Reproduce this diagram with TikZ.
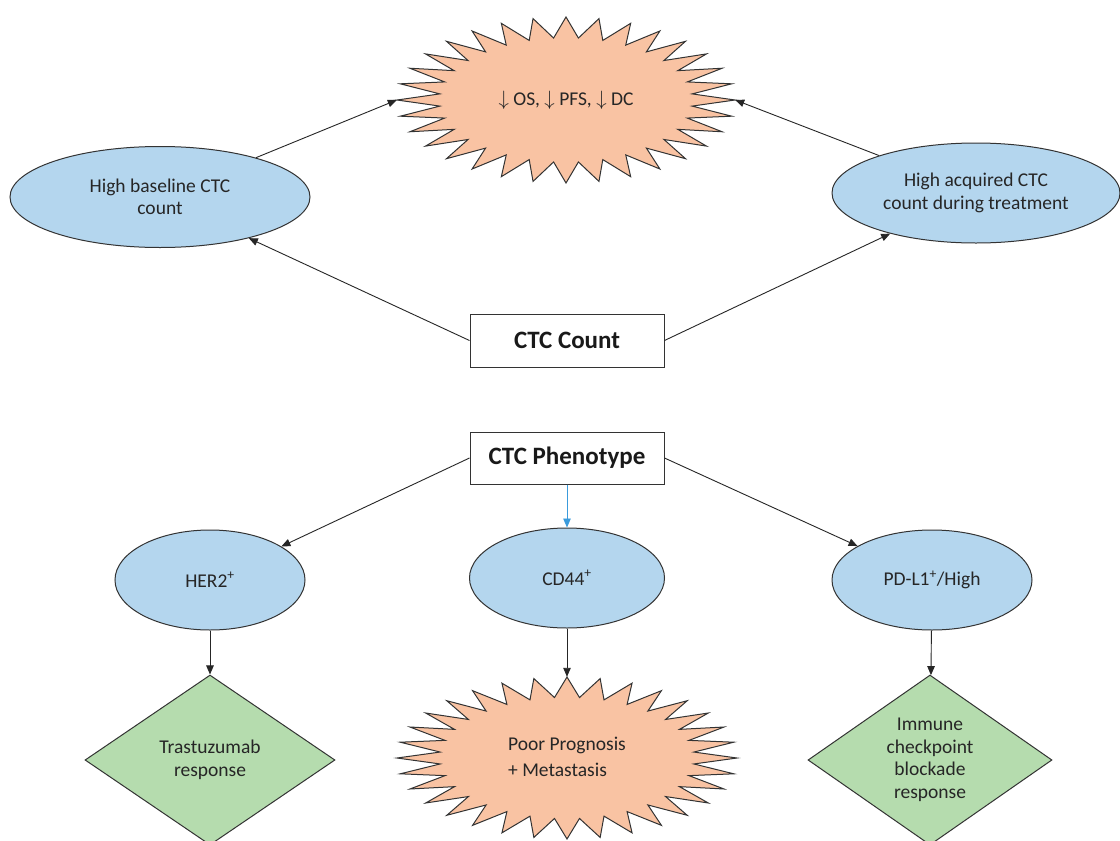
\documentclass[tikz,border=0pt]{standalone}
\usepackage{fontspec}
\setmainfont{Carlito}
\usetikzlibrary{shapes.geometric,arrows.meta}
\definecolor{ellblue}{HTML}{B4D6EE}
\definecolor{peach}{HTML}{F9C3A3}
\definecolor{lgreen}{HTML}{B5DCAE}
\definecolor{edgegray}{HTML}{333333}
\definecolor{bluearrow}{HTML}{3A9BDC}
\begin{document}
\begin{tikzpicture}[x=1pt,y=-1pt,
  txt/.style={font=\fontsize{19.5}{22.5}\selectfont, text=black!85, align=center},
  oval/.style={ellipse, draw=edgegray, line width=1pt, fill=ellblue, inner sep=0pt, txt},
  boxsty/.style={rectangle, draw=edgegray, line width=1pt, fill=white, minimum width=194pt, minimum height=52pt, font=\fontsize{25}{30}\selectfont\bfseries, text=black!90},
  dia/.style={diamond, draw=edgegray, line width=1pt, fill=lgreen, inner sep=0pt, aspect=1.45, txt},
  burst/.style={draw=edgegray, line width=1pt, fill=peach, line join=miter},
  burstnode/.style={ellipse, inner sep=0pt, txt},
  arr/.style={-{Triangle[length=9pt,width=7.5pt]}, line width=0.9pt, black!85},
]
\clip (0,0) rectangle (1120,841);
\fill[white] (0,0) rectangle (1120,841);

% starbursts
\draw[burst] plot[variable=\t, samples at={0,...,63}]
  ({566+169*(1-0.25*mod(\t,2))*cos(\t*5.625)}, {100+83*(1-0.25*mod(\t,2))*sin(\t*5.625)}) -- cycle;
\draw[burst] plot[variable=\t, samples at={0,...,63}]
  ({567+170*(1-0.25*mod(\t,2))*cos(\t*5.625)}, {758+81*(1-0.25*mod(\t,2))*sin(\t*5.625)}) -- cycle;

\node[burstnode, minimum width=338pt, minimum height=166pt] (os) at (566,100) {$\downarrow$ OS, $\downarrow$ PFS, $\downarrow$ DC};
\node[burstnode, minimum width=340pt, minimum height=162pt] (poor) at (567,758)
  {\def\arraystretch{1.15}\begin{tabular}{@{}l@{}}Poor Prognosis\\+ Metastasis\end{tabular}};

% ellipses
\node[oval, minimum width=300pt, minimum height=101pt] (base) at (160,197) {High baseline CTC\\count};
\node[oval, minimum width=288pt, minimum height=100pt] (acq) at (976,193) {High acquired CTC\\count during treatment};
\node[oval, minimum width=190pt, minimum height=100pt] (her2) at (210,580) {HER2\textsuperscript{+}};
\node[oval, minimum width=195pt, minimum height=100pt] (cd44) at (567,578) {CD44\textsuperscript{+}};
\node[oval, minimum width=200pt, minimum height=100pt] (pdl1) at (932,580) {PD-L1\textsuperscript{+}/High};

% boxes
\node[boxsty, minimum height=53pt] (count) at (567,340.5) {CTC Count};
\node[boxsty] (pheno) at (567,458) {CTC Phenotype};

% diamonds
\node[dia, minimum width=250pt, minimum height=170pt] (tras) at (210,760) {Trastuzumab\\response};
\node[dia, minimum width=244pt, minimum height=170pt] (imm) at (930,760) {Immune\\checkpoint\\blockade\\response};

% connectors
\draw[arr] (base) -- (os.west);
\draw[arr] (acq) -- (os.east);
\draw[arr] (count.west) -- (base);
\draw[arr] (count.east) -- (acq);
\draw[arr] (pheno.west) -- (her2);
\draw[arr, draw=bluearrow, fill=bluearrow] (pheno) -- (cd44);
\draw[arr] (pheno.east) -- (pdl1);
\draw[arr] (her2) -- (tras);
\draw[arr] (cd44) -- (poor.north);
\draw[arr] (pdl1) -- (imm);
\end{tikzpicture}
\end{document}
